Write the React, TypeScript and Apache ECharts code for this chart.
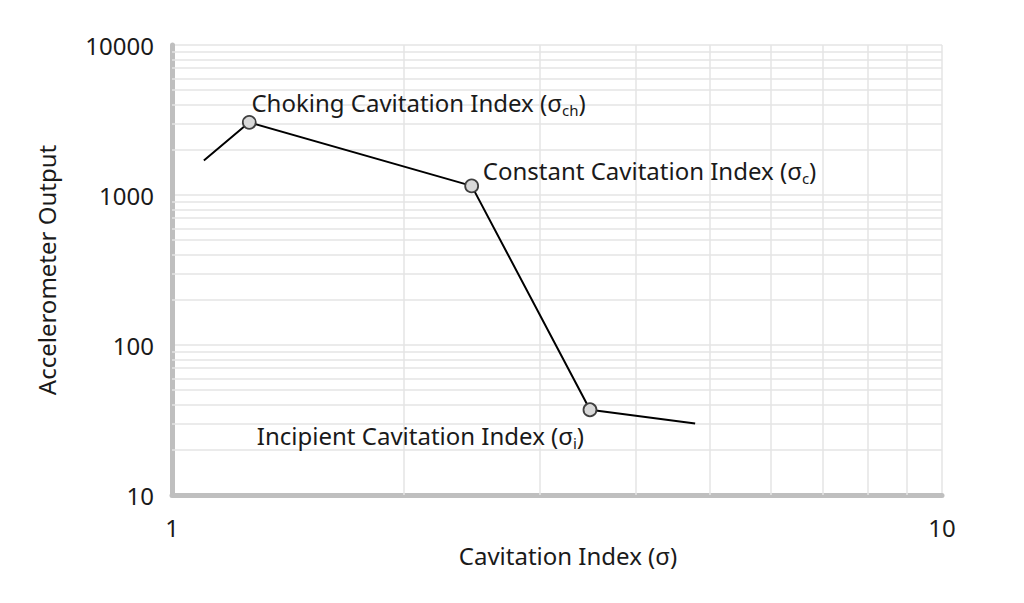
import React, { useEffect, useRef } from "react";
import * as echarts from "echarts";

const xValues = [1.1, 1.26, 2.45, 3.49, 4.78];
const yValues = [1700, 3050, 1150, 37, 30];
const markedPoints = [false, true, true, true, false];
const pointLabels = ["", "choke", "const", "incip", ""];
const xMinorGrid = [2, 3, 4, 5, 6, 7, 8, 9];
const yMinorGrid = [20, 30, 40, 50, 60, 70, 80, 90, 200, 300, 400, 500, 600, 700, 800, 900, 2000, 3000, 4000, 5000, 6000, 7000, 8000, 9000];

const FONT = "Noto Sans";
const FS = 24;
const rich = {
  a: { fontSize: FS, fontFamily: FONT, color: "#1a1a1a", lineHeight: 30 },
  s: { fontSize: 15, fontFamily: FONT, color: "#1a1a1a", verticalAlign: "bottom", lineHeight: 30, padding: [12, 0, 0, 0] },
};

const labelFor = (k: string) => {
  if (k === "choke")
    return { show: true, formatter: "{a|Choking Cavitation Index (σ}{s|ch}{a|)}", position: [9.5, -12.5], align: "left", verticalAlign: "middle", rich };
  if (k === "const")
    return { show: true, formatter: "{a|Constant Cavitation Index (σ}{s|c}{a|)}", position: [18.5, -7.5], align: "left", verticalAlign: "middle", rich };
  if (k === "incip")
    return { show: true, formatter: "{a|Incipient Cavitation Index (σ}{s|i}{a|)}", position: [1.5, 33.5], align: "right", verticalAlign: "middle", rich };
  return { show: false };
};

export default function App() {
  const ref = useRef<HTMLDivElement>(null);
  useEffect(() => {
    document.body.style.margin = "0";
    if (!ref.current) return;
    const chart = echarts.init(ref.current, null, { renderer: "svg" });
    const gridLine = { color: "#e4e4e4", width: 1.5, type: "solid" };
    chart.setOption({
      animation: false,
      grid: { left: 172, right: 82, top: 45, bottom: 108 },
      xAxis: {
        type: "log",
        logBase: 10,
        min: 1,
        max: 10,
        name: "Cavitation Index (σ)",
        nameLocation: "middle",
        nameGap: 37,
        nameTextStyle: { fontSize: FS, fontFamily: FONT, color: "#1a1a1a", padding: [0, 0, 0, 22] },
        axisLine: { show: true, lineStyle: { color: "#bfbfbf", width: 5 } },
        axisTick: { show: false },
        axisLabel: { fontSize: FS, fontFamily: FONT, color: "#1a1a1a", margin: 20 },
        splitLine: { show: true, lineStyle: gridLine },
      },
      yAxis: {
        type: "log",
        logBase: 10,
        min: 10,
        max: 10000,
        name: "Accelerometer Output",
        nameLocation: "middle",
        nameGap: 114,
        nameTextStyle: { fontSize: FS, fontFamily: FONT, color: "#1a1a1a" },
        axisLine: { show: true, lineStyle: { color: "#bfbfbf", width: 5 } },
        axisTick: { show: false },
        axisLabel: { fontSize: FS, fontFamily: FONT, color: "#1a1a1a", margin: 18, formatter: (v: number) => String(Math.round(v)) },
        splitLine: { show: true, lineStyle: gridLine },
      },
      series: [
        {
          type: "line",
          data: [],
          silent: true,
          z: 1,
          markLine: {
            silent: true,
            symbol: "none",
            z: 1,
            label: { show: false },
            lineStyle: gridLine,
            data: [
              ...xMinorGrid.map((v) => ({ xAxis: v })),
              ...yMinorGrid.map((v) => ({ yAxis: v })),
            ],
          },
        },
        {
          type: "line",
          z: 5,
          data: xValues.map((x, i) => ({
            value: [x, yValues[i]],
            symbol: markedPoints[i] ? "circle" : "none",
            label: labelFor(pointLabels[i]),
          })),
          symbolSize: 13,
          showAllSymbol: true,
          lineStyle: { color: "#000", width: 2 },
          itemStyle: { color: "#d9d9d9", borderColor: "#404040", borderWidth: 1.8 },
        },
      ],
    });
    return () => chart.dispose();
  }, []);
  return <div ref={ref} style={{ width: 1024, height: 603 }} />;
}
